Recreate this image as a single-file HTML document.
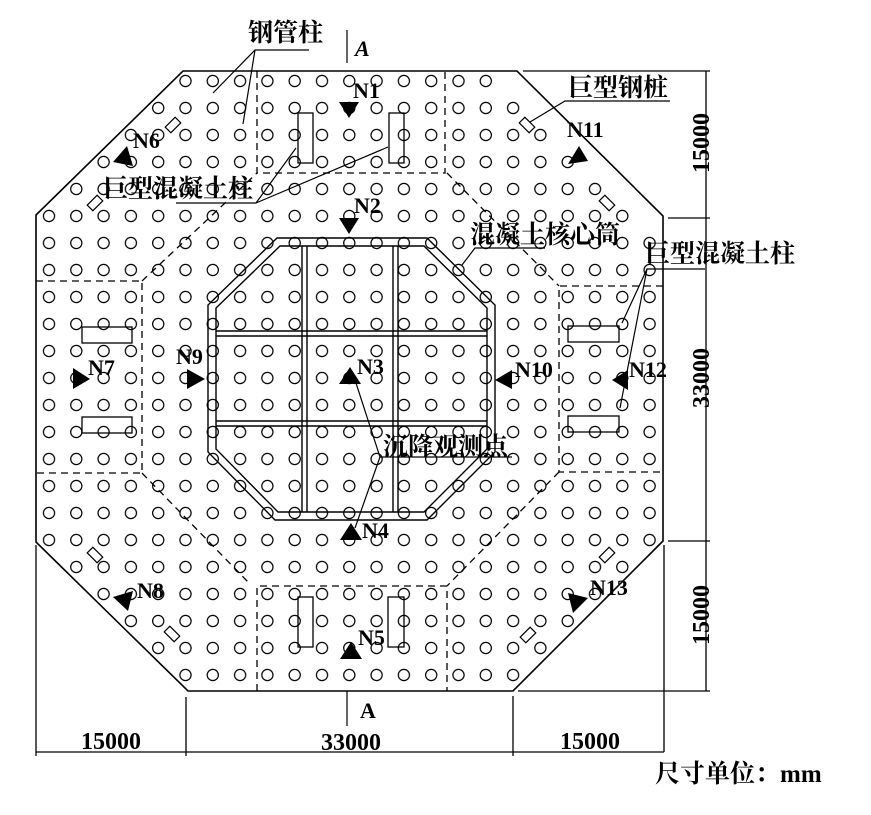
<!DOCTYPE html>
<html><head><meta charset="utf-8"><style>
html,body{margin:0;padding:0;background:#fff;}
svg{display:block;}
text{font-family:"Liberation Serif","Noto Serif CJK SC",serif;font-weight:bold;fill:#000;}
</style></head><body>
<svg width="871" height="815" viewBox="0 0 871 815" xmlns="http://www.w3.org/2000/svg">
<defs>
<pattern id="g" patternUnits="userSpaceOnUse" x="35.35" y="67.5" width="27.3" height="27">
<circle cx="13.65" cy="13.5" r="5.6" fill="none" stroke="#000" stroke-width="1.2"/>
</pattern>
<clipPath id="oc">
<rect x="171.85" y="67.5" width="327.6" height="27"/>
<rect x="144.55" y="94.5" width="382.2" height="27"/>
<rect x="117.25" y="121.5" width="436.8" height="27"/>
<rect x="89.95" y="148.5" width="491.4" height="27"/>
<rect x="62.65" y="175.5" width="546" height="27"/>
<rect x="35" y="202.5" width="600.95" height="27"/>
<rect x="35" y="229.5" width="628" height="324"/>
<rect x="62.65" y="553.5" width="573.3" height="27"/>
<rect x="89.95" y="580.5" width="518.7" height="27"/>
<rect x="117.25" y="607.5" width="464.1" height="27"/>
<rect x="144.55" y="634.5" width="409.5" height="27"/>
<rect x="171.85" y="661.5" width="354.9" height="27"/>
</clipPath>
</defs>
<rect width="871" height="815" fill="#fff"/>
<rect x="0" y="0" width="871" height="815" fill="url(#g)" clip-path="url(#oc)"/>

<g fill="none" stroke="#000" stroke-width="1.6">
<polygon points="183,71 517,71 663,216 663,541 513,691 188,691 36,542 36,215"/>
</g>
<g fill="none" stroke="#000" stroke-width="1.3" stroke-dasharray="7,5">
<polyline points="257,71 257,173 445,173 445,71"/>
<polyline points="36,281 142,281 142,473 36,473"/>
<polyline points="663,286 559,286 559,472 663,472"/>
<polyline points="257,691 257,586 447,586 447,691"/>
<line x1="142" y1="281" x2="257" y2="173"/>
<line x1="447" y1="173" x2="559" y2="286"/>
<line x1="142" y1="473" x2="249" y2="583"/>
<line x1="559" y1="472" x2="447" y2="586"/>
</g>
<g fill="none" stroke="#000" stroke-width="1.4">
<polygon points="277,238 427,238 495,305 495,452 427,520 275,520 208,452 208,305"/>
<polygon points="280,246 424,246 487,308 487,449 424,512 278,512 216,449 216,308"/>
<line x1="302" y1="246" x2="302" y2="512"/><line x1="307" y1="246" x2="307" y2="512"/>
<line x1="393" y1="246" x2="393" y2="512"/><line x1="398" y1="246" x2="398" y2="512"/>
<line x1="216" y1="331" x2="487" y2="331"/><line x1="216" y1="336" x2="487" y2="336"/>
<line x1="216" y1="421" x2="487" y2="421"/><line x1="216" y1="426" x2="487" y2="426"/>
</g>
<g fill="none" stroke="#000" stroke-width="1.3">
<rect x="298" y="113" width="15" height="50"/><rect x="389" y="113" width="15" height="50"/>
<rect x="298" y="597" width="15" height="50"/><rect x="388" y="597" width="16" height="50"/>
<rect x="82" y="327" width="50" height="16"/><rect x="82" y="417" width="50" height="16"/>
<rect x="568" y="326" width="51" height="16"/><rect x="568" y="416" width="51" height="16"/>
</g>
<g fill="#fff" stroke="#000" stroke-width="1.2">
<rect x="-4" y="-7" width="8" height="14" transform="translate(173,125) rotate(45)"/>
<rect x="-4" y="-7" width="8" height="14" transform="translate(95,203) rotate(45)"/>
<rect x="-4" y="-7" width="8" height="14" transform="translate(527,125) rotate(-45)"/>
<rect x="-4" y="-7" width="8" height="14" transform="translate(607,203) rotate(-45)"/>
<rect x="-4" y="-7" width="8" height="14" transform="translate(607,555) rotate(45)"/>
<rect x="-4" y="-7" width="8" height="14" transform="translate(528,635) rotate(45)"/>
<rect x="-4" y="-7" width="8" height="14" transform="translate(95,555) rotate(-45)"/>
<rect x="-4" y="-7" width="8" height="14" transform="translate(172,634) rotate(-45)"/>
</g>
<g fill="#000">
<polygon points="339,102 359,102 349,118"/>
<polygon points="339,218 359,218 349,234"/>
<polygon points="339,384 361,384 350,367"/>
<polygon points="340,540 362,540 351,523"/>
<polygon points="340,659 362,659 351,642"/>
<polygon points="187,369 187,389 205,379"/>
<polygon points="73,368 73,389 90,379"/>
<polygon points="512,370 512,389 495,380"/>
<polygon points="628,370 628,390 612,380"/>
<polygon points="113,162 133,166 127,146"/>
<polygon points="568,164 588,161 579,146"/>
<polygon points="113,597 133,591 128,611"/>
<polygon points="568,593 588,598 573,613"/>
</g>
<g fill="none" stroke="#000" stroke-width="1.2">
<polyline points="213,93 255,50 309,50"/><line x1="255" y1="50" x2="243" y2="124"/>
<line x1="347" y1="30" x2="347" y2="63"/>
<line x1="347" y1="691" x2="347" y2="726"/>
<polyline points="530,122 565,101 670,101"/>
<polyline points="176,203 256,203 296,148"/><line x1="256" y1="203" x2="388" y2="147"/>
<polyline points="462,265 475,248 545,248"/>
<polyline points="705,269 647,269 622,323"/><line x1="647" y1="269" x2="620" y2="408"/>
<polyline points="355,380 380,457 512,457"/><line x1="380" y1="457" x2="355" y2="528"/>
</g>
<g fill="none" stroke="#000" stroke-width="1.3">
<line x1="706" y1="71" x2="706" y2="691"/>
<line x1="523" y1="71" x2="710" y2="71"/>
<line x1="668" y1="218" x2="710" y2="218"/>
<line x1="668" y1="541" x2="710" y2="541"/>
<line x1="518" y1="691" x2="710" y2="691"/>
<line x1="36" y1="752" x2="664" y2="752"/>
<line x1="36" y1="545" x2="36" y2="756"/>
<line x1="186" y1="697" x2="186" y2="756"/>
<line x1="513" y1="696" x2="513" y2="756"/>
<line x1="664" y1="545" x2="664" y2="752"/>
</g>
<g font-size="22">
<text x="353" y="98">N1</text>
<text x="354" y="213">N2</text>
<text x="357" y="374">N3</text>
<text x="362" y="538">N4</text>
<text x="358" y="645">N5</text>
<text x="133" y="148">N6</text>
<text x="88" y="375">N7</text>
<text x="137" y="598">N8</text>
<text x="176" y="364">N9</text>
<text x="515" y="377">N10</text>
<text x="567" y="137">N11</text>
<text x="629" y="377">N12</text>
<text x="590" y="595">N13</text>
</g>
<text x="355" y="56" font-size="22" font-style="italic" font-weight="normal">A</text>
<text x="360" y="718" font-size="22">A</text>
<g font-size="25">
<text x="248" y="41">钢管柱</text>
<text x="568" y="96">巨型钢桩</text>
<text x="103" y="197">巨型混凝土柱</text>
<text x="470" y="243">混凝土核心筒</text>
<text x="645" y="262">巨型混凝土柱</text>
<text x="383" y="455">沉降观测点</text>
<text x="655" y="782">尺寸单位：mm</text>
</g>
<g font-size="24" text-anchor="middle">
<text x="111" y="749">15000</text>
<text x="351" y="750">33000</text>
<text x="590" y="749">15000</text>
<text transform="translate(709,143) rotate(-90)">15000</text>
<text transform="translate(709,378) rotate(-90)">33000</text>
<text transform="translate(709,615) rotate(-90)">15000</text>
</g>
</svg>
</body></html>
